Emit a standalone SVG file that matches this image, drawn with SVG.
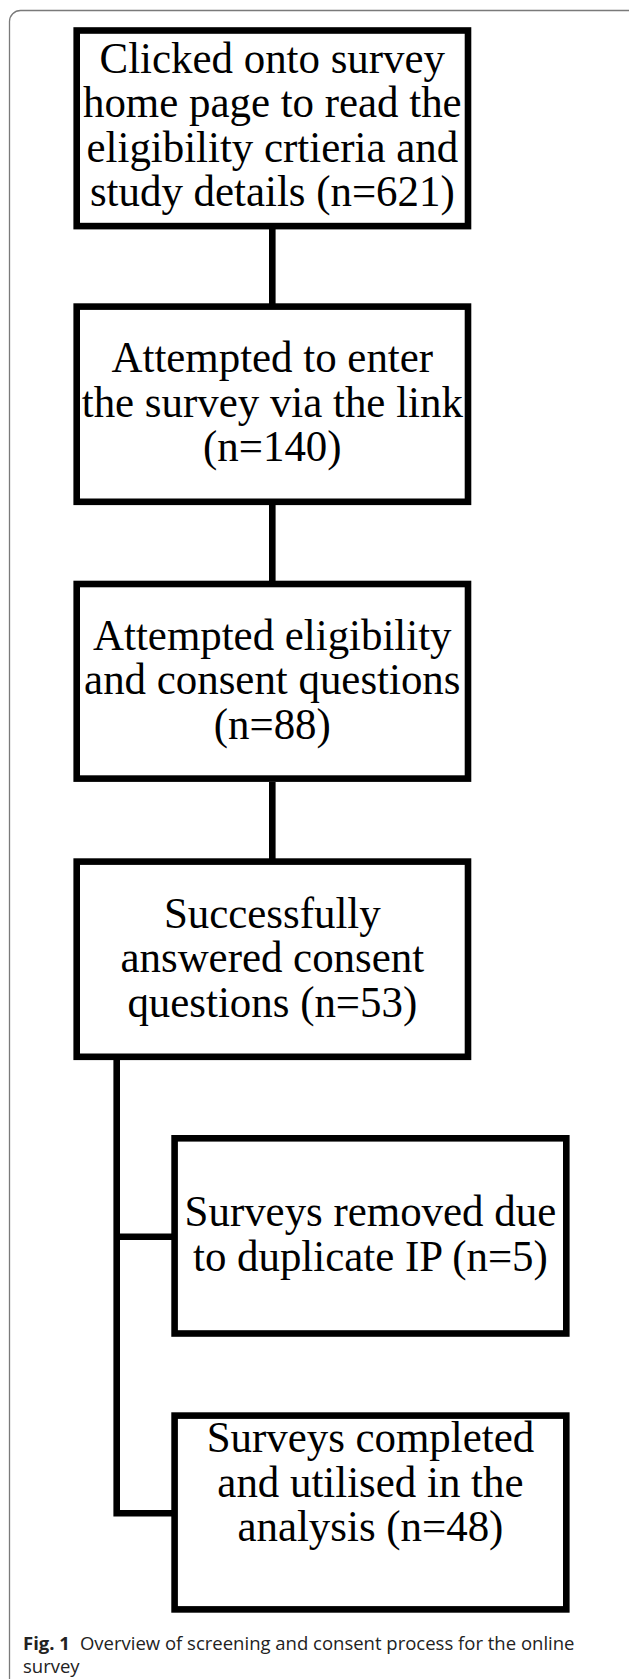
<svg xmlns="http://www.w3.org/2000/svg" width="629" height="1679" viewBox="0 0 629 1679">
<style>
.frame{fill:none;stroke:#7a7a7a;stroke-width:1.3}
.box{fill:#fff;stroke:#000;stroke-width:6.6}
.con{fill:none;stroke:#000;stroke-width:6.6;stroke-linejoin:miter;stroke-linecap:butt}
.t{font-family:"Liberation Serif","Times New Roman",serif;font-size:44px;fill:#000;text-anchor:middle}
.cap{font-family:"Open Sans","Noto Sans",sans-serif;font-size:18.5px;fill:#222}
</style>
<rect width="629" height="1679" fill="#fff"/>
<rect class="frame" x="9.5" y="10.5" width="640" height="1680" rx="11" ry="11"/>
<g id="connectors">
<line class="con" x1="272.3" y1="229" x2="272.3" y2="304"/>
<line class="con" x1="272.3" y1="505" x2="272.3" y2="581"/>
<line class="con" x1="272.3" y1="782" x2="272.3" y2="859"/>
<path class="con" d="M116.7,1057 V1513.3 H175"/>
<path class="con" d="M116.7,1236.7 H175"/>
</g>
<g id="n1">
<rect class="box" x="76.7" y="30.5" width="391.3" height="195.6"/>
<g transform="translate(272.3 0) scale(0.975 1)">
<text class="t" x="0" y="72.7">Clicked onto survey</text>
<text class="t" x="0" y="117.2">home page to read the</text>
<text class="t" x="0" y="161.7">eligibility crtieria and</text>
<text class="t" x="0" y="206.2">study details (n=621)</text>
</g>
</g>
<g id="n2">
<rect class="box" x="76.7" y="306.6" width="391.3" height="195.2"/>
<g transform="translate(272.3 0) scale(0.975 1)">
<text class="t" x="0" y="372.5">Attempted to enter</text>
<text class="t" x="0" y="417">the survey via the link</text>
<text class="t" x="0" y="461.5">(n=140)</text>
</g>
</g>
<g id="n3">
<rect class="box" x="76.7" y="584" width="391.3" height="194.6"/>
<g transform="translate(272.3 0) scale(0.975 1)">
<text class="t" x="0" y="650">Attempted eligibility</text>
<text class="t" x="0" y="694.5">and consent questions</text>
<text class="t" x="0" y="739">(n=88)</text>
</g>
</g>
<g id="n4">
<rect class="box" x="76.7" y="861.6" width="391.3" height="195.2"/>
<g transform="translate(272.3 0) scale(0.975 1)">
<text class="t" x="0" y="928">Successfully</text>
<text class="t" x="0" y="972.5">answered consent</text>
<text class="t" x="0" y="1017">questions (n=53)</text>
</g>
</g>
<g id="n5">
<rect class="box" x="174.6" y="1138.3" width="391.7" height="195.2"/>
<g transform="translate(370.4 0) scale(0.975 1)">
<text class="t" x="0" y="1226.5">Surveys removed due</text>
<text class="t" x="0" y="1271">to duplicate IP (n=5)</text>
</g>
</g>
<g id="n6">
<rect class="box" x="174.6" y="1415.6" width="391.7" height="193.8"/>
<g transform="translate(370.4 0) scale(0.975 1)">
<text class="t" x="0" y="1452.5">Surveys completed</text>
<text class="t" x="0" y="1497">and utilised in the</text>
<text class="t" x="0" y="1541.5">analysis (n=48)</text>
</g>
</g>
<g id="caption">
<text class="cap" x="23" y="1650"><tspan font-weight="bold">Fig. 1</tspan><tspan dx="10">Overview of screening and consent process for the online</tspan></text>
<text class="cap" x="23" y="1673">survey</text>
</g>
</svg>
